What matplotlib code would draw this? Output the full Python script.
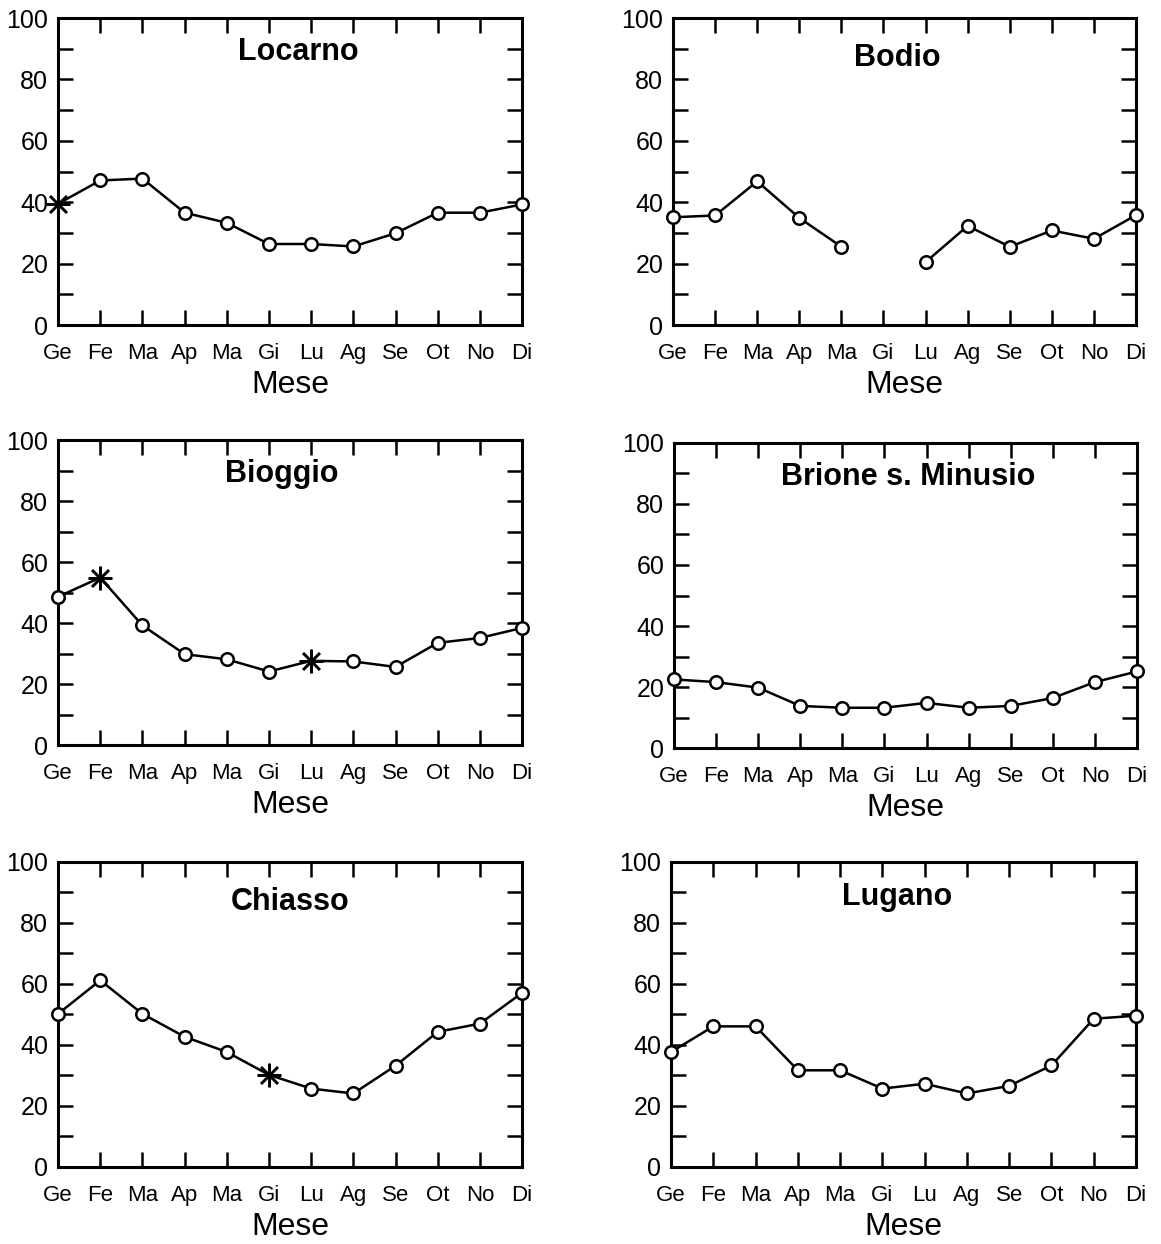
import numpy as np
import matplotlib.pyplot as plt

plt.rcParams['font.family'] = ['Liberation Sans', 'DejaVu Sans']

mesi = ["Ge", "Fe", "Ma", "Ap", "Ma", "Gi", "Lu", "Ag", "Se", "Ot", "No", "Di"]

locarno = [39.5, 47.1, 47.7, 36.6, 33.3, 26.4, 26.4, 25.6, 29.9, 36.6, 36.6, 39.3]
bodio = [35.1, 35.7, 46.8, 34.9, 25.5, np.nan, 20.5, 32.3, 25.5, 30.8, 28.1, 35.8]
bioggio = [48.6, 54.9, 39.2, 29.8, 28.1, 24.1, 27.6, 27.4, 25.6, 33.5, 35.1, 38.4]
brione = [22.5, 21.6, 19.8, 13.8, 13.2, 13.2, 14.8, 13.2, 13.8, 16.4, 21.6, 25.1]
chiasso = [50.2, 61.2, 50.2, 42.7, 37.7, 30.2, 25.7, 24.1, 33.2, 44.3, 47.0, 57.1]
lugano = [37.7, 46.1, 46.1, 31.7, 31.7, 25.7, 27.3, 24.1, 26.6, 33.3, 48.6, 49.6]

# indices of months marked with an asterisk instead of a circle
stelle_locarno = [0]
stelle_bioggio = [1, 6]
stelle_chiasso = [5]

# name, data, stars, axes rect, title position (axes fraction)
panels = [
    ("Locarno", locarno, stelle_locarno, [0.050, 0.7387, 0.3997, 0.2468], (0.517, 0.89)),
    ("Bodio", bodio, [], [0.5797, 0.7387, 0.3988, 0.2468], (0.484, 0.87)),
    ("Bioggio", bioggio, stelle_bioggio, [0.050, 0.4011, 0.3997, 0.2452], (0.483, 0.89)),
    ("Brione s. Minusio", brione, [], [0.5805, 0.3987, 0.3988, 0.2452], (0.506, 0.89)),
    ("Chiasso", chiasso, stelle_chiasso, [0.050, 0.0619, 0.3997, 0.2452], (0.500, 0.87)),
    ("Lugano", lugano, [], [0.5780, 0.0619, 0.4005, 0.2452], (0.486, 0.885)),
]

fig = plt.figure(figsize=(11.61, 12.44), dpi=100)

for nome, valori, stelle, pos, (tx, ty) in panels:
    ax = fig.add_axes(pos)
    x = np.arange(12)
    y = np.array(valori, dtype=float)
    ax.plot(x, y, color="black", lw=1.8, zorder=2, clip_on=False)

    circ = y.copy()
    circ[stelle] = np.nan
    ax.plot(x, circ, ls="none", marker="o", ms=9, mfc="white", mec="black",
            mew=1.8, zorder=3, clip_on=False)
    if stelle:
        ax.plot(x[stelle], y[stelle], ls="none", marker=(8, 2, 0), ms=17,
                mec="black", mew=1.8, zorder=4, clip_on=False)

    ax.set_xlim(0, 11)
    ax.set_ylim(0, 100)
    ax.set_xticks(x)
    ax.set_xticklabels(mesi, fontsize=16)
    ax.set_yticks([0, 20, 40, 60, 80, 100])
    ax.set_yticks([10, 30, 50, 70, 90], minor=True)
    ax.tick_params(axis="y", which="major", labelsize=18, pad=7)
    ax.tick_params(axis="x", which="major", pad=13)
    ax.tick_params(which="both", direction="in", top=True, right=True,
                   length=11, width=1.8)
    for sp in ax.spines.values():
        sp.set_linewidth(2.2)

    ax.set_xlabel("Mese", fontsize=23, labelpad=4)
    ax.text(tx, ty, nome, transform=ax.transAxes, ha="center", va="center",
            fontsize=22, fontweight="bold")

fig.savefig("out.png", dpi=100)
